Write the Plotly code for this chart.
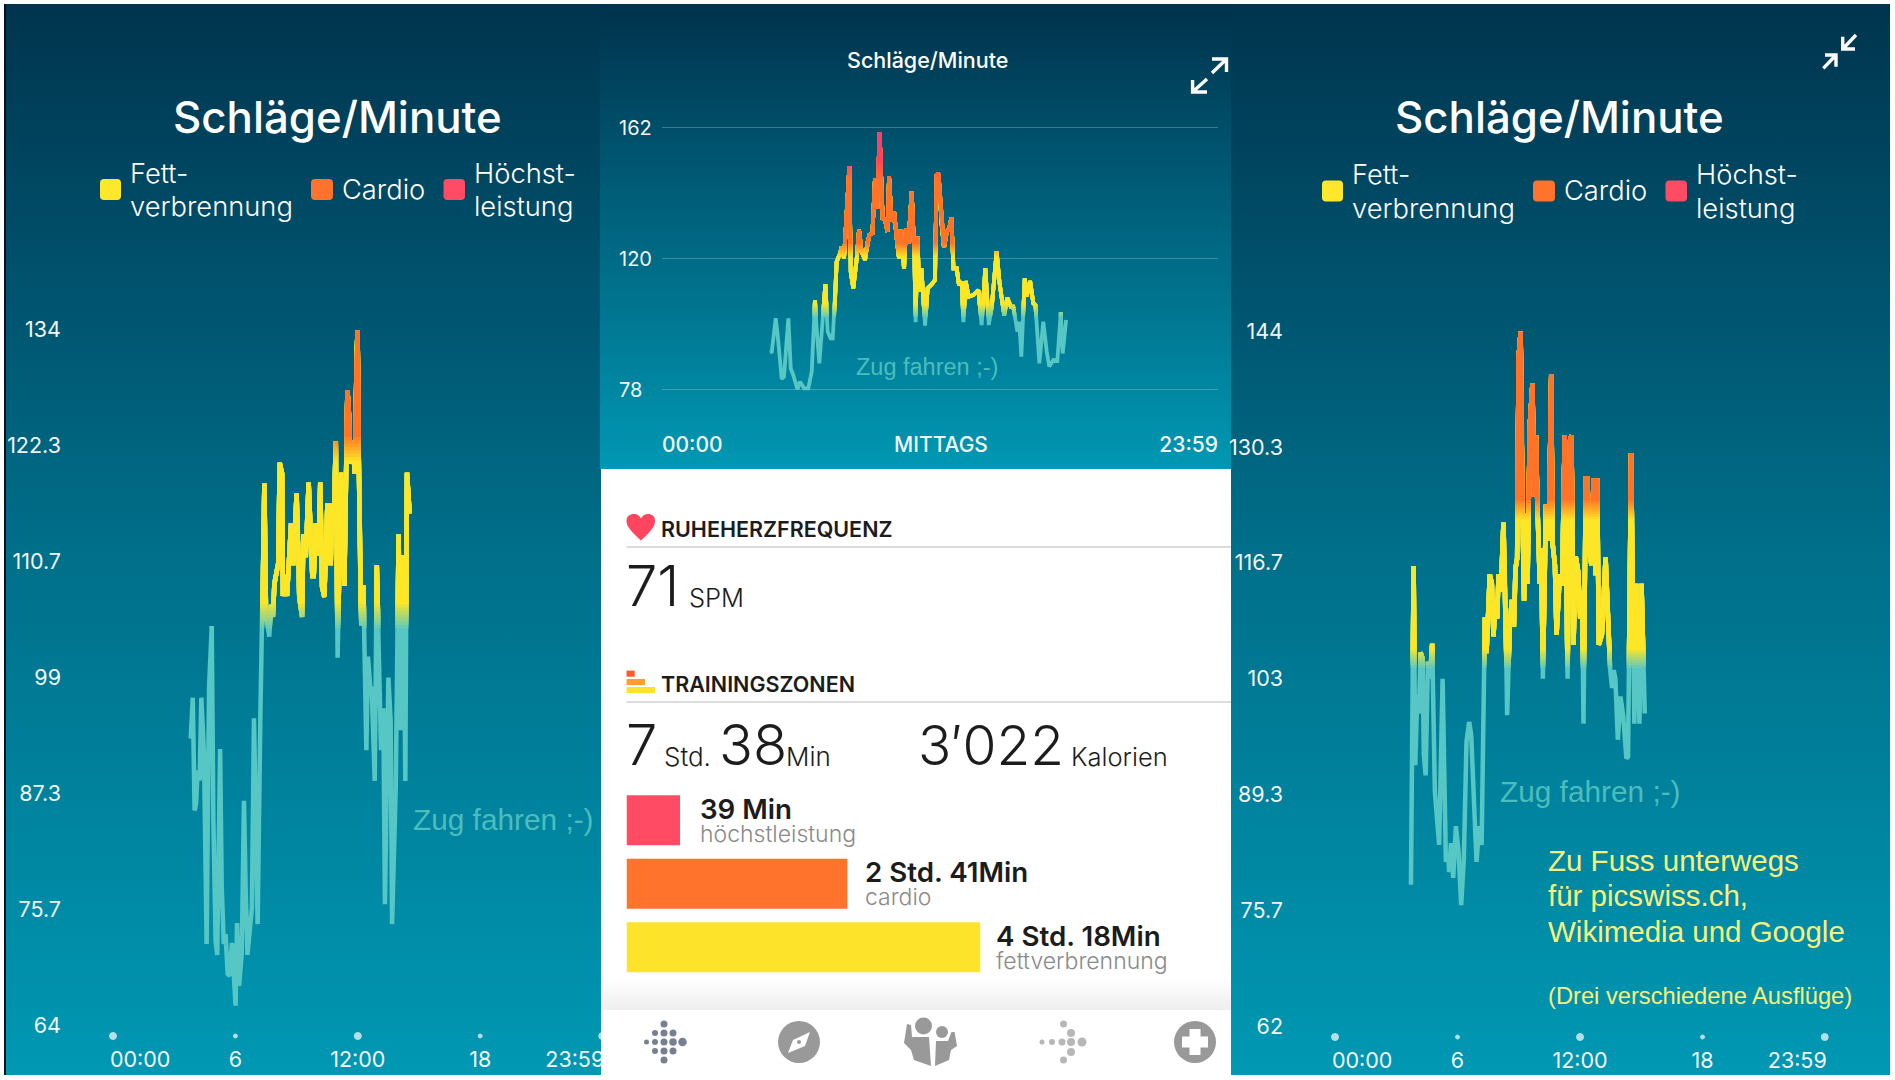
import plotly.graph_objects as go

# ---------- DATA ----------
p1_hours = [3.81,3.91,4.00,4.07,4.15,4.25,4.33,4.46,4.59,4.71,4.84,4.92,5.03,5.11,5.25,5.33,5.43,5.52,5.62,5.72,5.83,5.93,6.01,6.08,6.18,6.31,6.42,6.50,6.59,6.72,6.81,6.91,7.01,7.09,7.22,7.32,7.42,7.50,7.66,7.75,7.84,7.91,8.10,8.17,8.29,8.33,8.43,8.53,8.73,8.84,9.00,9.13,9.27,9.33,9.45,9.59,9.69,9.77,9.84,9.94,10.07,10.16,10.25,10.36,10.51,10.67,10.75,10.83,10.92,11.01,11.18,11.34,11.49,11.55,11.65,11.75,11.85,11.95,11.99,12.04,12.12,12.17,12.27,12.35,12.42,12.50,12.61,12.68,12.83,12.93,13.04,13.14,13.25,13.33,13.50,13.61,13.68,13.86,14.00,14.10,14.23,14.33,14.41,14.54]
p1_bpm = [92.85,96.97,85.63,86.3,89.66,88.65,96.97,91.34,72.2,98.05,104.16,84.62,72.54,71.1,91.8,77.9,72.2,73.2,69.2,69.0,72.3,69.2,66.0,74.3,68.0,71.2,86.6,77.9,71.1,73.9,75.9,94.9,84.6,74.2,94.7,104.8,118.5,105.4,103.1,106.3,105.1,108.4,110.5,120.6,119.5,107.2,109.3,107.2,114.5,110.3,117.5,107.1,105.1,113.4,111.1,118.6,113.5,109.2,109.2,114.5,111.3,118.6,108.1,107.1,116.5,110.3,116.5,115.3,122.7,101.0,119.6,108.2,127.9,126.2,120.5,122.8,119.5,132.0,133.9,122.2,108.1,104.2,108.3,101.4,91.7,101.1,98.0,97.9,88.6,110.3,101.4,91.7,95.9,76.2,99.0,94.7,74.2,88.0,113.4,93.7,111.3,88.6,119.6,115.5]

p2_hours = [4.59,4.67,4.84,4.91,5.10,5.20,5.32,5.39,5.49,5.60,5.78,5.89,6.07,6.25,6.40,6.54,6.61,6.73,6.90,6.99,7.09,7.22,7.31,7.41,7.48,7.63,7.70,7.80,7.89,8.03,8.09,8.20,8.35,8.45,8.56,8.71,8.81,8.90,9.03,9.14,9.24,9.34,9.47,9.58,9.68,9.75,9.86,9.97,10.08,10.18,10.25,10.40,10.48,10.59,10.73,10.85,10.90,10.98,11.06,11.15,11.31,11.42,11.60,11.74,11.81,11.89,12.03,12.13,12.25,12.36,12.45,12.54,12.68,12.78,12.90,12.97,13.07,13.19,13.40,13.62,13.76,13.92,14.07,14.20,14.41,14.53,14.74,14.87,15.02,15.13,15.31,15.39,15.48,15.63,15.71,15.86,16.00,16.09,16.26,16.43,16.58,16.69,16.87,17.04,17.19,17.27,17.42]
p2_bpm = [89.75,89.97,100.67,96.4,81.2,81.95,94.2,100.67,84.6,82.5,77.9,80.35,78.2,78.2,83.55,106.5,97.45,86.2,102.8,111.55,96.4,94.2,94.2,106.0,118.8,121.5,123.6,119.9,131.65,149.3,115.6,110.3,119.9,129.0,122.0,119.4,124.7,127.4,127.9,145.5,135.9,160.3,132.7,132.2,128.4,146.1,131.65,134.85,126.3,119.9,129.0,116.5,129.5,124.7,141.3,120.4,99.4,126.8,109.2,116.7,98.3,110.3,111.55,112.95,146.6,147.1,130.6,123.3,128.4,129.5,132.9,116.7,116.7,111.3,112.4,99.4,112.6,107.6,108.1,109.7,98.5,116.7,98.5,104.4,122.0,112.4,101.5,107.3,104.4,104.4,96.4,99.6,88.4,113.5,107.6,112.6,105.5,104.9,86.2,99.6,90.0,85.2,87.3,87.0,102.6,89.4,100.1]

p3_hours = [3.72,3.85,3.93,4.03,4.11,4.19,4.29,4.35,4.44,4.55,4.65,4.76,4.89,4.97,5.10,5.27,5.38,5.43,5.55,5.59,5.68,5.79,5.92,6.05,6.18,6.31,6.44,6.57,6.67,6.80,6.93,7.06,7.18,7.34,7.42,7.58,7.68,7.76,7.86,7.94,8.01,8.12,8.25,8.35,8.43,8.56,8.66,8.76,8.84,8.92,8.99,9.09,9.18,9.26,9.35,9.43,9.54,9.67,9.75,9.84,9.90,10.03,10.10,10.18,10.33,10.47,10.59,10.65,10.77,10.85,11.01,11.12,11.25,11.39,11.50,11.58,11.68,11.79,11.91,12.01,12.10,12.17,12.28,12.36,12.45,12.56,12.66,12.76,12.84,12.92,13.07,13.25,13.38,13.47,13.57,13.65,13.73,13.85,13.98,14.11,14.27,14.35,14.50,14.66,14.75,14.91,15.01,15.17]
p3_bpm = [78.7,116.3,92.8,101.1,98.9,106.1,105.4,94.0,91.6,105.0,103.0,107.1,89.7,87.7,83.4,103.0,89.7,81.4,82.2,80.2,83.6,79.5,85.6,82.6,76.3,81.8,95.6,97.9,96.4,89.7,81.4,85.6,83.4,110.2,106.0,115.3,114.2,108.0,112.3,110.1,115.3,113.3,121.4,112.1,98.7,109.3,112.3,109.1,116.0,117.2,140.8,143.9,122.7,112.2,122.5,114.2,132.9,137.8,124.5,131.7,124.5,114.2,118.4,103.0,123.5,119.3,138.9,119.1,116.4,108.2,115.3,114.0,131.7,103.0,131.0,131.7,107.0,117.4,115.6,110.1,113.3,97.7,126.6,126.6,118.0,116.4,126.6,115.2,126.6,107.0,108.2,117.3,110.1,104.2,101.9,104.0,103.0,95.8,100.9,98.7,93.6,93.8,129.6,97.7,114.2,97.7,114.2,98.9]

p1_ticks = [64, 75.7, 87.3, 99, 110.7, 122.3, 134]
p1_ticklabels = ["64", "75.7", "87.3", "99", "110.7", "122.3", "134"]
p2_ticks = [78, 120, 162]
p2_ticklabels = ["78", "120", "162"]
p3_ticks = [62, 75.7, 89.3, 103, 116.7, 130.3, 144]
p3_ticklabels = ["62", "75.7", "89.3", "103", "116.7", "130.3", "144"]
hour_ticks = [0, 6, 12, 18, 23.983]
hour_labels = ["00:00", "6", "12:00", "18", "23:59"]

zones = ["höchstleistung", "cardio", "fettverbrennung"]
zone_minutes = [39, 161, 258]
zone_durations = ["39 Min", "2 Std. 41Min", "4 Std. 18Min"]

# ---------- STYLE ----------
W, H = 1895, 1080
TEAL, YEL, ORA, PNK = (86, 199, 197), (253, 230, 38), (255, 115, 40), (255, 64, 96)
# the canvas y axis runs downward, so position 0 of these scales is the bottom of a rectangle
BG = [[0, "#0098b3"], [0.5, "#006e89"], [0.74, "#00526d"], [1, "#00344e"]]
BG2 = [[0, "#0098b3"], [0.4, "#00708b"], [0.7, "#00526d"], [1, "#00314b"]]
SANS = "Inter"
ARIAL = "Liberation Sans"


def mix(a, b, t):
    return "rgb(%d,%d,%d)" % tuple(round(a[i] + (b[i] - a[i]) * t) for i in range(3))


def thresholds(stops):
    out = []
    for lo, hi, c0, c1 in stops:
        n = 8
        for i in range(1, n + 1):
            out.append((lo + (hi - lo) * i / n, mix(c0, c1, i / n)))
    return out


def clip_above(xs, ys, t):
    ox, oy = [], []
    for i in range(len(xs) - 1):
        x0, y0, x1, y1 = xs[i], ys[i], xs[i + 1], ys[i + 1]
        if y0 < t and y1 < t:
            continue
        if y0 < t:
            x0 = x0 + (x1 - x0) * (t - y0) / (y1 - y0)
            y0 = t
        elif y1 < t:
            x1 = x0 + (x1 - x0) * (t - y0) / (y1 - y0)
            y1 = t
        if ox and ox[-1] == x0 and oy[-1] == y0:
            ox.append(x1); oy.append(y1)
        else:
            if ox:
                ox.append(None); oy.append(None)
            ox += [x0, x1]; oy += [y0, y1]
    return ox, oy


fig = go.Figure()
layout_axes = {}


def hidden(**kw):
    d = dict(visible=False, showgrid=False, zeroline=False, fixedrange=True)
    d.update(kw)
    return d


def xdom(a, b):
    return [a / W, b / W]


def ydom(a, b):
    return [1 - b / H, 1 - a / H]


def rect(x0, x1, y0, y1, sub, color=None, scale=None):
    kw = dict(x=[x0, x1, x1, x0, x0], y=[y0, y0, y1, y1, y0], mode="lines", fill="toself",
              line=dict(width=0, color="rgba(0,0,0,0)"), hoverinfo="skip", showlegend=False,
              xaxis="x" + sub, yaxis="y" + sub)
    if scale:
        kw["fillgradient"] = dict(type="vertical", colorscale=scale)
    else:
        kw["fillcolor"] = color
    fig.add_trace(go.Scatter(**kw))


def heart_line(xs, ys, sub, stops, width):
    fig.add_trace(go.Scatter(x=xs, y=ys, mode="lines", line=dict(color=mix(TEAL, TEAL, 0), width=width),
                             hoverinfo="skip", showlegend=False, xaxis="x" + sub, yaxis="y" + sub))
    for t, c in thresholds(stops):
        cx, cy = clip_above(xs, ys, t)
        if cx:
            fig.add_trace(go.Scatter(x=cx, y=cy, mode="lines", line=dict(color=c, width=width),
                                     hoverinfo="skip", showlegend=False, connectgaps=False,
                                     xaxis="x" + sub, yaxis="y" + sub))


def axis_labels(sub, yval_dot, yval_text, size=21.5):
    fig.add_trace(go.Scatter(x=hour_ticks, y=[yval_dot] * 5, mode="markers",
                             marker=dict(color="white", size=[7, 4, 7, 4, 7]),
                             hoverinfo="skip", showlegend=False, cliponaxis=False,
                             xaxis="x" + sub, yaxis="y" + sub))
    label_x = [hour_ticks[0] - 0.15] + hour_ticks[1:4] + [hour_ticks[4] + 0.1]
    fig.add_trace(go.Scatter(x=label_x, y=[yval_text] * 5, mode="text", text=hour_labels,
                             textposition=["middle right", "middle center", "middle center", "middle center", "middle left"],
                             textfont=dict(family=SANS, size=size, color="#f2f6f8"),
                             hoverinfo="skip", showlegend=False, cliponaxis=False,
                             xaxis="x" + sub, yaxis="y" + sub))


# ---------- subplot 1: canvas, left panel background ----------
canvas = lambda: hidden(range=[0, W], domain=[0, 1])
canvas_y = lambda: hidden(range=[H, 0], domain=[0, 1])
rect(4, 6, 4, 1075, "", color="#0a0f1e")
rect(6, 601, 4, 1075, "", scale=BG)
layout_axes["xaxis"] = dict(canvas(), anchor="y")
layout_axes["yaxis"] = dict(canvas_y(), anchor="x")

# ---------- subplot 2: left chart ----------
bp1 = lambda py: 134 - (py - 329.5) / 9.943
hp1 = lambda px: (px - 113) / 20.4
layout_axes["xaxis2"] = hidden(domain=xdom(62, 625), range=[hp1(62), hp1(625)], anchor="y2")
layout_axes["yaxis2"] = dict(domain=ydom(300, 1075), range=[bp1(1075), bp1(300)], anchor="x2", showgrid=False,
                             zeroline=False, fixedrange=True, tickvals=p1_ticks, ticktext=p1_ticklabels,
                             ticks="", showline=False, tickfont=dict(family=SANS, size=21.5, color="#f2f6f8"))
heart_line(p1_hours, p1_bpm, "2", [(103.6, 106.4, TEAL, YEL), (120.5, 123.2, YEL, ORA)], 4.5)
axis_labels("2", bp1(1036), bp1(1062))

# ---------- subplot 3: canvas, middle + right panel backgrounds, card ----------
layout_axes["xaxis3"] = dict(canvas(), anchor="y3")
layout_axes["yaxis3"] = dict(canvas_y(), anchor="x3")
rect(600, 1231, 4, 469, "3", scale=BG2)
rect(601, 1231, 469, 1075, "3", color="white")
rect(601, 1231, 978, 1010, "3", scale=[[0, "#eeeeee"], [1, "#ffffff"]])
rect(1231, 1890, 4, 1075, "3", scale=BG)

# ---------- subplot 4: middle chart ----------
bp2 = lambda py: 162 - (py - 127) / 3.119
hp2 = lambda px: (px - 664) / 23.08
layout_axes["xaxis4"] = hidden(domain=xdom(662, 1218), range=[hp2(662), 24], anchor="y4")
layout_axes["yaxis4"] = dict(domain=ydom(100, 469), range=[bp2(469), bp2(100)], anchor="x4", showgrid=True,
                             gridcolor="rgba(255,255,255,0.24)", gridwidth=1.3, zeroline=False, fixedrange=True,
                             tickvals=p2_ticks, showticklabels=False, ticks="", showline=False)
heart_line(p2_hours, p2_bpm, "4", [(100.5, 105, TEAL, YEL), (120, 124.5, YEL, ORA), (144, 151, ORA, PNK)], 3.8)
fig.add_trace(go.Scatter(x=[hp2(662), 12, 24], y=[bp2(447)] * 3, mode="text", text=["00:00", "MITTAGS", "23:59"],
                         textposition=["middle right", "middle center", "middle left"],
                         textfont=dict(family=SANS, size=21, color="#f2f6f8", weight=500), hoverinfo="skip",
                         showlegend=False, cliponaxis=False, xaxis="x4", yaxis="y4"))

# ---------- subplot 5: right chart ----------
bp3 = lambda py: 144 - (py - 331) / 8.48
hp3 = lambda px: (px - 1335) / 20.42
layout_axes["xaxis5"] = hidden(domain=xdom(1284, 1890), range=[hp3(1284), hp3(1890)], anchor="y5")
layout_axes["yaxis5"] = dict(domain=ydom(300, 1075), range=[bp3(1075), bp3(300)], anchor="x5", showgrid=False,
                             zeroline=False, fixedrange=True, tickvals=p3_ticks, ticktext=p3_ticklabels,
                             ticks="", showline=False, tickfont=dict(family=SANS, size=21.5, color="#f2f6f8"))
heart_line(p3_hours, p3_bpm, "5", [(104, 106.4, TEAL, YEL), (121.5, 124, YEL, ORA)], 4.5)
axis_labels("5", bp3(1037), bp3(1063))

# ---------- subplot 6: zone bars ----------
layout_axes["xaxis6"] = hidden(domain=xdom(626.5, 980.5), range=[0, 258], anchor="y6")
layout_axes["yaxis6"] = hidden(domain=ydom(788.5, 979), range=[2.5, -0.5], anchor="x6", type="category",
                               categoryorder="array", categoryarray=zones)
fig.add_trace(go.Bar(x=zone_minutes, y=zones, orientation="h", width=0.79,
                     marker=dict(color=["#ff4b63", "#ff732d", "#fde42b"], line=dict(width=0)),
                     hoverinfo="skip", showlegend=False, xaxis="x6", yaxis="y6"))

# ---------- subplot 7: nav icons ----------
layout_axes["xaxis7"] = dict(canvas(), anchor="y7")
layout_axes["yaxis7"] = dict(canvas_y(), anchor="x7")
dot_x, dot_y, dot_s = [], [], []
for dx, dy, s in [(-17.5, 0, 5), (-9, 0, 6), (0, 0, 7), (9, 0, 7.5), (18.5, 0, 8.5),
                  (-9, -9, 6), (0, -9, 7), (9, -9, 7), (-9, 9, 6), (0, 9, 7), (9, 9, 7), (0, -18, 7), (0, 18, 7)]:
    dot_x.append(664 + dx); dot_y.append(1042 + dy); dot_s.append(s)
fig.add_trace(go.Scatter(x=dot_x, y=dot_y, mode="markers", marker=dict(color="#3d4a63", size=dot_s, line=dict(width=0)),
                         hoverinfo="skip", showlegend=False, xaxis="x7", yaxis="y7"))
gx, gy, gs = [], [], []
for x, y, s in [(1042, 1042, 5), (1052, 1042, 6), (1062, 1042, 7), (1071, 1042, 8), (1082, 1042, 9),
                (1071, 1033, 8), (1071, 1052, 8), (1063.5, 1024, 7), (1063.5, 1060, 7)]:
    gx.append(x); gy.append(y); gs.append(s)
fig.add_trace(go.Scatter(x=gx, y=gy, mode="markers", marker=dict(color="#999999", size=gs, line=dict(width=0)),
                         hoverinfo="skip", showlegend=False, xaxis="x7", yaxis="y7"))

# ---------- shapes & text ----------
shapes, ann = [], []


def path(d, fill=None, line=None, lw=0, xr="x7", yr="y7"):
    s = dict(type="path", path=d, xref=xr, yref=yr, layer="above",
             line=dict(width=lw, color=line or "rgba(0,0,0,0)"))
    if fill:
        s["fillcolor"] = fill
    shapes.append(s)


def rrect(x0, y0, x1, y1, r, fill):
    path(f"M{x0+r},{y0} L{x1-r},{y0} Q{x1},{y0} {x1},{y0+r} L{x1},{y1-r} Q{x1},{y1} {x1-r},{y1} "
         f"L{x0+r},{y1} Q{x0},{y1} {x0},{y1-r} L{x0},{y0+r} Q{x0},{y0} {x0+r},{y0} Z", fill)


def circle(cx, cy, r, fill):
    shapes.append(dict(type="circle", x0=cx - r, x1=cx + r, y0=cy - r, y1=cy + r, xref="x7", yref="y7",
                       layer="above", fillcolor=fill, line=dict(width=0)))


def text(x, y, s, size, color="white", anchor="left", family=SANS, weight=None):
    f = dict(family=family, size=size, color=color)
    if weight:
        f["weight"] = weight
    ann.append(dict(x=x / W, y=1 - y / H, xref="paper", yref="paper", text=s, showarrow=False,
                    xanchor=anchor, yanchor="middle", font=f, align="left", borderpad=0))


def arrow(tailx, taily, tipx, tipy, h1x, h1y, h2x, h2y):
    path(f"M{tailx},{taily} L{tipx},{tipy} M{h1x},{h1y} L{tipx},{tipy} L{h2x},{h2y}", None, "white", 3.4)


def legend(dx, dy, title_x, title_y):
    text(title_x, title_y, "Schläge/Minute", 43.8, anchor="center", weight=500)
    rrect(100 + dx, 179 + dy, 121 + dx, 200 + dy, 4, "#ffe82c")
    rrect(311 + dx, 179 + dy, 333 + dx, 200 + dy, 4, "#ff732d")
    rrect(443.5 + dx, 179 + dy, 465 + dx, 200 + dy, 4, "#ff4b63")
    text(129 + dx, 173 + dy, "Fett-", 27.3, weight=300)
    text(129 + dx, 207 + dy, "verbrennung", 27.3, weight=300)
    text(341 + dx, 189 + dy, "Cardio", 27.3, weight=300)
    text(473 + dx, 173 + dy, "Höchst-", 27.3, weight=300)
    text(473 + dx, 207 + dy, "leistung", 27.3, weight=300)


legend(0, 0, 337, 117)
legend(1222, 1.5, 1559, 117)

for val, lab in zip(p2_ticks, p2_ticklabels):
    ann.append(dict(x=618 / W, y=val, xref="paper", yref="y4", text=lab, showarrow=False, xanchor="left",
                    yanchor="middle", yshift=-1, font=dict(family=SANS, size=20, color="#f2f6f8"), borderpad=0))

ZUG = "#4cbdbd"
text(412, 819, "Zug fahren ;-)", 29.8, ZUG, family=ARIAL)
text(855, 367, "Zug fahren ;-)", 23.5, ZUG, family=ARIAL)
text(1499, 791, "Zug fahren ;-)", 29.8, ZUG, family=ARIAL)
FUSS = "#f8f07a"
text(1547, 860, "Zu Fuss unterwegs", 29.5, FUSS, family=ARIAL)
text(1547, 895, "für picswiss.ch,", 29.5, FUSS, family=ARIAL)
text(1547, 931, "Wikimedia und Google", 29.5, FUSS, family=ARIAL)
text(1547, 996, "(Drei verschiedene Ausflüge)", 23.7, FUSS, family=ARIAL)

# panel 2 header
text(927, 60, "Schläge/Minute", 21.5, anchor="center", weight=500)
arrow(1212, 73, 1226.5, 59, 1212, 59, 1226.5, 72)
arrow(1207, 79, 1192.6, 92, 1192.6, 80, 1207, 92)
arrow(1823.3, 68.3, 1836, 55, 1825, 55, 1836, 66.7)
arrow(1856, 35, 1842.7, 49, 1842.7, 36.7, 1855, 49)

# card
BLK = "#1c1c1c"
path("M641,540.5 C632,532 626.5,527 626.5,521 C626.5,516 630,514 634,514 C637,514 640,516 641,518.5 "
     "C642,516 645,514 648,514 C652,514 655,516 655,521 C655,527 650,532 641,540.5 Z", "#ff4560")
text(660, 529, "RUHEHERZFREQUENZ", 21.5, BLK, weight=600)
text(660, 684, "TRAININGSZONEN", 21.5, BLK, weight=600)
for yy in (547, 702):
    path(f"M626.5,{yy} L1231,{yy}", None, "#dcdcdc", 2)
for y0, y1, x1, c in [(670.6, 676.7, 634.7, "#ff5a28"), (679, 685, 645, "#ffa02d"), (687, 693, 655, "#fde42b")]:
    path(f"M626.5,{y0} L{x1},{y0} L{x1},{y1} L626.5,{y1} Z", c)

text(625, 586, "71", 56, BLK, weight=300)
text(688, 597, "SPM", 25.5, BLK, weight=300)
text(625, 745, "7", 56, BLK, weight=300)
text(663, 756, "Std.", 26, BLK, weight=300)
text(718, 745, "38", 56, BLK, weight=300)
text(785, 756, "Min", 26, BLK, weight=300)
text(917, 745, "3′022", 55, BLK, weight=300)
text(1070, 756, "Kalorien", 25.5, BLK, weight=300)

GREY = "#8a8a8a"
for x, y, d, z in zip([699, 864, 995], [809, 872, 936], zone_durations, zones):
    text(x, y, d, 27.7, BLK, weight=600)
    text(x, y + 25, z, 23, GREY, weight=300)

# nav icons
circle(799, 1042, 21, "#999999")
path("M810,1032 L793,1040 L788,1053 L805,1046 Z", "white")
circle(799, 1042, 2, "#999999")
circle(923.5, 1026, 8.5, "#999999")
circle(942, 1032, 6, "#999999")
path("M907,1024 L911,1025 L912,1037 L929,1037 L931,1066 L914,1060 L911,1050 L904,1043 Z", "#999999")
path("M936,1041 L948,1041 L951.5,1032 L954.6,1032 L957,1046 L951,1050 L949,1060 L935,1066 Z", "#999999")
circle(1195, 1042, 21, "#999999")
path("M1189.5,1029 L1200.5,1029 L1200.5,1036.5 L1208,1036.5 L1208,1047.5 L1200.5,1047.5 L1200.5,1055 "
     "L1189.5,1055 L1189.5,1047.5 L1182,1047.5 L1182,1036.5 L1189.5,1036.5 Z", "white")

fig.update_layout(width=W, height=H, margin=dict(l=0, r=0, t=0, b=0, pad=0), paper_bgcolor="white",
                  plot_bgcolor="rgba(0,0,0,0)", showlegend=False, shapes=shapes, annotations=ann,
                  font=dict(family=SANS), hovermode=False, **layout_axes)

fig.write_html("out.html", config=dict(displayModeBar=False, responsive=False),
               post_script="document.body.style.margin='0';document.body.style.overflow='hidden';")
